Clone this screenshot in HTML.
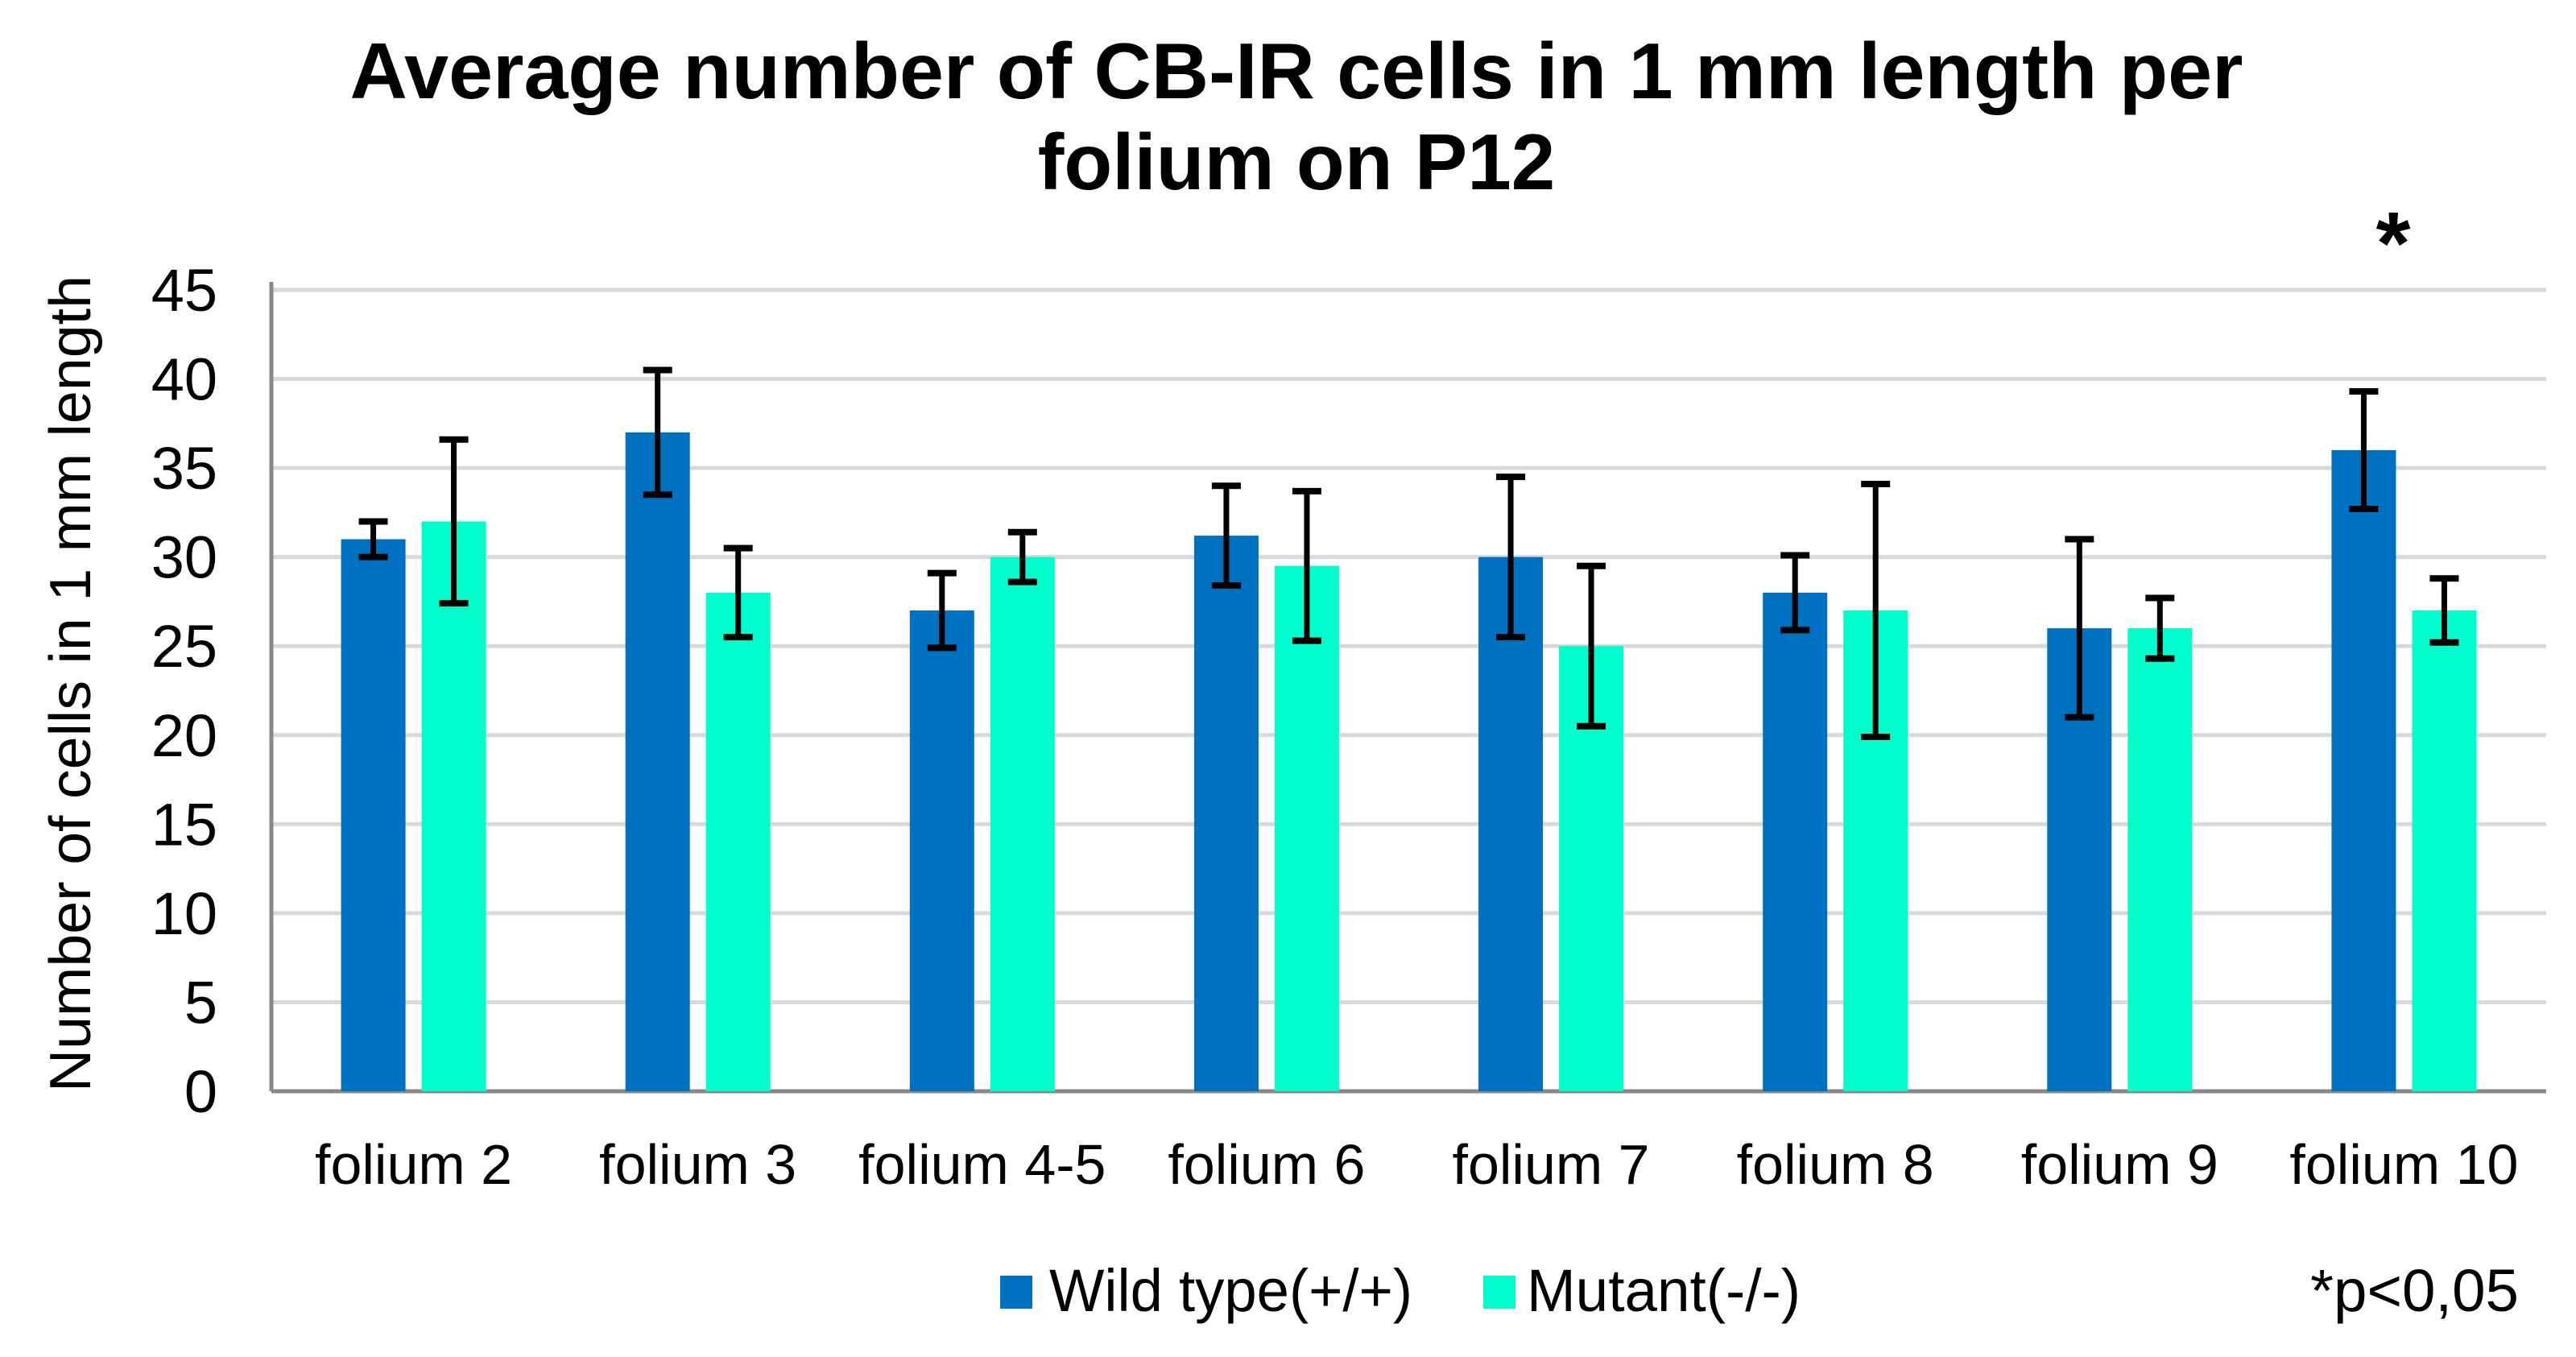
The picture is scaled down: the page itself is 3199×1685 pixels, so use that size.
<!DOCTYPE html>
<html><head><meta charset="utf-8"><style>html,body{margin:0;padding:0;background:#fff}svg{display:block}</style></head>
<body>
<svg id="chart" width="3199" height="1685" viewBox="0 0 3199 1685" xmlns="http://www.w3.org/2000/svg" font-family="Liberation Sans, Arial, sans-serif">
<rect width="3199" height="1685" fill="#fff"/>
<text x="1610" y="122" font-size="98" font-weight="bold" text-anchor="middle" textLength="2351" lengthAdjust="spacingAndGlyphs">Average number of CB-IR cells in 1 mm length per</text>
<text x="1610" y="235" font-size="98" font-weight="bold" text-anchor="middle">folium on P12</text>
<text transform="translate(112,849) rotate(-90)" font-size="72" text-anchor="middle" textLength="1014" lengthAdjust="spacingAndGlyphs">Number of cells in 1 mm length</text>
<g id="grid"></g><g id="bars"></g><g id="errs"></g><g id="labels"></g>
<text x="2972" y="340" font-size="110" font-weight="bold" text-anchor="middle">*</text>
<rect x="1242" y="1584" width="40" height="41" fill="#0070C0"/>
<text x="1303" y="1628" font-size="74" textLength="451" lengthAdjust="spacingAndGlyphs">Wild type(+/+)</text>
<rect x="1842" y="1584" width="40" height="41" fill="#00FFCC"/>
<text x="1896" y="1628" font-size="74" textLength="340" lengthAdjust="spacingAndGlyphs">Mutant(-/-)</text>
<text x="2869" y="1628" font-size="74" textLength="259" lengthAdjust="spacingAndGlyphs">*p&lt;0,05</text>
</svg>
<script>
const categories = ["folium 2","folium 3","folium 4-5","folium 6","folium 7","folium 8","folium 9","folium 10"];
const wildType = [31, 37, 27, 31.2, 30, 28, 26, 36];
const wildErr = [1, 3.5, 2.1, 2.8, 4.5, 2.1, 5, 3.3];
const mutant = [32, 28, 30, 29.5, 25, 27, 26, 27];
const mutantErr = [4.6, 2.5, 1.4, 4.2, 4.5, 7.1, 1.7, 1.8];
const yTicks = [0,5,10,15,20,25,30,35,40,45];

const NS="http://www.w3.org/2000/svg";
const X0=337, X1=3162, Y0=1355, Y45=360;
const y = v => Y0 - (v/45)*(Y0-Y45);
const band = (X1-X0)/categories.length;
const cx = i => X0 + band*(i+0.5);
function mk(tag, attrs, parent){const e=document.createElementNS(NS,tag);for(const k in attrs)e.setAttribute(k,attrs[k]);document.getElementById(parent).appendChild(e);return e;}

yTicks.forEach(t=>{
  if(t>0){const g=mk('line',{x1:X0,x2:X1,y1:y(t),y2:y(t),stroke:'#d9d9d9','stroke-width':5},'grid');
  
  }
  const tx=mk('text',{x:270,y:y(t)+26,'font-size':74,'text-anchor':'end'},'labels');
  tx.textContent=t;
  
  
});
const ax=mk('line',{x1:X0,x2:X0,y1:Y45-10,y2:Y0,stroke:'#888','stroke-width':5},'grid');


const bx=mk('line',{x1:X0,x2:X1,y1:Y0,y2:Y0,stroke:'#888','stroke-width':5},'grid');



const BW=80, OFF=50;
function drawErr(x,v,e){
  const l=mk('line',{x1:x,x2:x,y1:y(v+e),y2:y(v-e),stroke:'#000','stroke-width':7},'errs');
  
  
  [v+e,v-e].forEach(w=>{const c=mk('line',{x1:x-18,x2:x+18,y1:y(w),y2:y(w),stroke:'#000','stroke-width':8},'errs');
  
  });
}
categories.forEach((c,i)=>{
  const xb=cx(i)-OFF, xm=cx(i)+OFF;
  const b=mk('rect',{x:xb-BW/2,y:y(wildType[i]),width:BW,height:Y0-y(wildType[i]),fill:'#0070C0'},'bars');
  
  
  const m=mk('rect',{x:xm-BW/2,y:y(mutant[i]),width:BW,height:Y0-y(mutant[i]),fill:'#00FFCC'},'bars');
  
  
  drawErr(xb,wildType[i],wildErr[i]);
  drawErr(xm,mutant[i],mutantErr[i]);
  const t=mk('text',{x:cx(i),y:1470,'font-size':70,'text-anchor':'middle'},'labels');
  t.textContent=c;
  
  
});
</script>
</body></html>
